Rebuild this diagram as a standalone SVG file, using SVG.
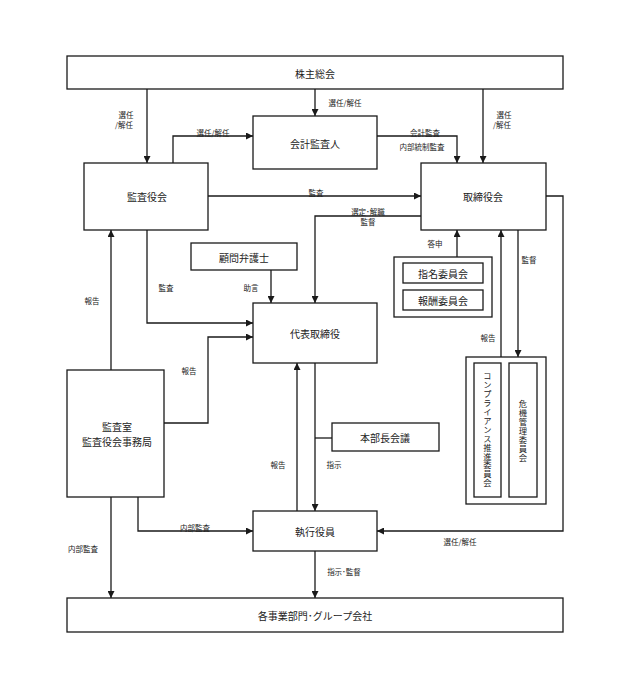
<svg xmlns="http://www.w3.org/2000/svg" width="637" height="691" viewBox="0 0 637 691">
<style>
.box{fill:#fff;stroke:#1a1a1a;stroke-width:1.3}
.t{font-family:"Noto Sans CJK JP","Noto Sans CJK SC",sans-serif;font-size:10px;fill:#222;text-anchor:middle;dominant-baseline:central}
.s{font-family:"Noto Sans CJK JP","Noto Sans CJK SC",sans-serif;font-size:7.5px;fill:#222;text-anchor:middle;dominant-baseline:central}
.v{font-family:"Noto Sans CJK JP","Noto Sans CJK SC",sans-serif;font-size:8.3px;letter-spacing:0.6px;fill:#222;text-anchor:middle;writing-mode:vertical-rl}
.c{fill:none;stroke:#1a1a1a;stroke-width:1.3}
.a{marker-end:url(#ah)}
</style>
<defs>
<marker id="ah" markerWidth="7" markerHeight="7" refX="7" refY="3.5" orient="auto" markerUnits="userSpaceOnUse">
<path d="M0,0 L7,3.5 L0,7 z" fill="#1a1a1a"/>
</marker>
</defs>
<rect width="637" height="691" fill="#fff"/>
<g id="connectors">
<path class="c a" d="M147,89 V163"/>
<path class="c a" d="M315,89 V116"/>
<path class="c a" d="M483,89 V163"/>
<path class="c a" d="M173,163 V136 H253"/>
<path class="c a" d="M377,136 H457 V163"/>
<path class="c a" d="M208,196 H421"/>
<path class="c a" d="M421,216 H315 V303"/>
<path class="c a" d="M271,270 V303"/>
<path class="c a" d="M147,230 V323 H253"/>
<path class="c a" d="M164,423 H208 V337 H253"/>
<path class="c a" d="M111,370 V230"/>
<path class="c a" d="M457,257 V230"/>
<path class="c a" d="M501,357 V230"/>
<path class="c a" d="M518,230 V357"/>
<path class="c a" d="M546,196 H563 V531 H377"/>
<path class="c a" d="M315,363 V511"/>
<path class="c a" d="M297,511 V363"/>
<path class="c" d="M332,438 H315"/>
<path class="c a" d="M138,497 V531 H253"/>
<path class="c a" d="M111,497 V598"/>
<path class="c a" d="M315,551 V598"/>
<text class="s" x="345" y="102">選任/解任</text>
<text class="s" x="126" y="114">選任</text>
<text class="s" x="124" y="124">/解任</text>
<text class="s" x="504" y="114">選任</text>
<text class="s" x="502" y="124">/解任</text>
<text class="s" x="213" y="132">選任/解任</text>
<text class="s" x="425" y="132">会計監査</text>
<text class="s" x="422" y="146">内部統制監査</text>
<text class="s" x="316" y="192">監査</text>
<text class="s" x="368" y="211">選定･解職</text>
<text class="s" x="368" y="221">監督</text>
<text class="s" x="251" y="287">助言</text>
<text class="s" x="166" y="287">監査</text>
<text class="s" x="92" y="300">報告</text>
<text class="s" x="189" y="370">報告</text>
<text class="s" x="435" y="243">答申</text>
<text class="s" x="488" y="337">報告</text>
<text class="s" x="529" y="259">監督</text>
<text class="s" x="278" y="464">報告</text>
<text class="s" x="334" y="464">指示</text>
<text class="s" x="195" y="527">内部監査</text>
<text class="s" x="83" y="548">内部監査</text>
<text class="s" x="460" y="541">選任/解任</text>
<text class="s" x="344" y="571">指示･監督</text>
</g>
<g id="kabunushi">
<rect class="box" x="67" y="56" width="496" height="33"/>
<text class="t" x="315" y="73">株主総会</text>
</g>
<g id="kaikei">
<rect class="box" x="253" y="116" width="124" height="53"/>
<text class="t" x="315" y="143">会計監査人</text>
</g>
<g id="kansayakukai">
<rect class="box" x="84" y="163" width="124" height="67"/>
<text class="t" x="147" y="196">監査役会</text>
</g>
<g id="torishimariyakukai">
<rect class="box" x="421" y="163" width="125" height="67"/>
<text class="t" x="483" y="196">取締役会</text>
</g>
<g id="komon">
<rect class="box" x="191" y="243" width="106" height="27"/>
<text class="t" x="244" y="257">顧問弁護士</text>
</g>
<g id="iinkai">
<rect class="box" x="394" y="257" width="98" height="60"/>
<rect class="box" x="403" y="263" width="80" height="20"/>
<text class="t" x="443" y="273">指名委員会</text>
<rect class="box" x="403" y="290" width="80" height="20"/>
<text class="t" x="443" y="300">報酬委員会</text>
</g>
<g id="daihyo">
<rect class="box" x="253" y="303" width="124" height="60"/>
<text class="t" x="315" y="333">代表取締役</text>
</g>
<g id="compliance">
<rect class="box" x="466" y="357" width="80" height="147"/>
<rect class="box" x="474" y="363" width="27" height="134"/>
<text class="v" x="487.5" y="430">コンプライアンス推進委員会</text>
<rect class="box" x="509" y="363" width="28" height="134"/>
<text class="v" x="523" y="431">危機管理委員会</text>
</g>
<g id="kansashitsu">
<rect class="box" x="67" y="370" width="97" height="127"/>
<text class="t" x="117" y="426">監査室</text>
<text class="t" x="117" y="441">監査役会事務局</text>
</g>
<g id="honbucho">
<rect class="box" x="332" y="423" width="107" height="28"/>
<text class="t" x="385" y="437">本部長会議</text>
</g>
<g id="shikko">
<rect class="box" x="253" y="511" width="124" height="40"/>
<text class="t" x="315" y="531">執行役員</text>
</g>
<g id="jigyobu">
<rect class="box" x="67" y="598" width="496" height="34"/>
<text class="t" x="315" y="615">各事業部門･グループ会社</text>
</g>
</svg>
